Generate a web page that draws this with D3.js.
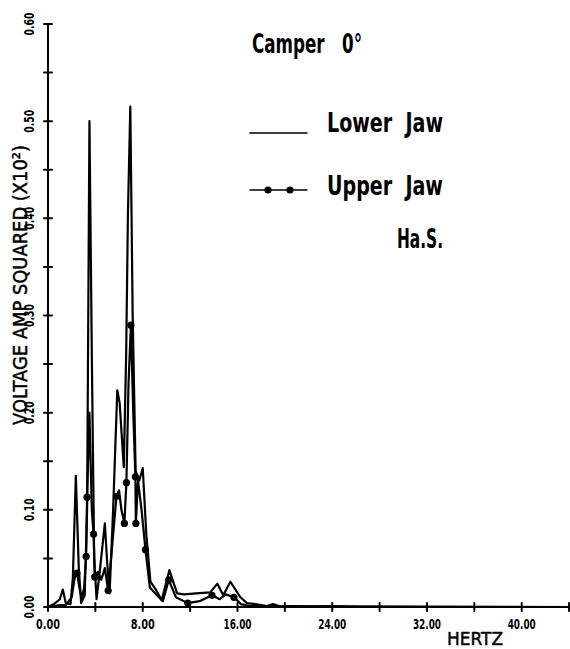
<!DOCTYPE html>
<html>
<head>
<meta charset="utf-8">
<script src="https://cdn.jsdelivr.net/npm/d3@7"></script>
<style>
  html, body { margin: 0; padding: 0; background: #fff; }
  svg { display: block; }
  .cond { font-family: "DejaVu Sans Condensed", "Liberation Sans Narrow", "DejaVu Sans", sans-serif; font-weight: bold; font-stretch: condensed; }
  .plain { font-family: "DejaVu Sans", sans-serif; }
</style>
</head>
<body>
<div id="chart"></div>
<script>
// spectra: [hertz, voltage amp squared (x10^2)]
const lowerJaw = [
  [0, 0], [0.5, 0.003], [1.0, 0.008], [1.25, 0.018], [1.5, 0.004], [1.9, 0.003],
  [2.1, 0.03], [2.35, 0.135], [2.6, 0.04], [2.8, 0.004], [3.1, 0.012], [3.3, 0.1],
  [3.5, 0.50], [3.7, 0.26], [3.9, 0.05], [4.1, 0.008], [4.4, 0.04], [4.8, 0.086],
  [5.0, 0.045], [5.2, 0.014], [5.5, 0.1], [5.85, 0.223], [6.05, 0.21], [6.4, 0.144],
  [6.6, 0.26], [6.75, 0.405], [6.95, 0.515], [7.15, 0.30], [7.4, 0.14], [7.7, 0.13],
  [8.0, 0.143], [8.3, 0.075], [8.65, 0.026], [9.2, 0.016], [9.6, 0.007], [10.25, 0.038],
  [10.9, 0.014], [11.5, 0.013], [12.5, 0.014], [13.7, 0.015], [14.3, 0.024], [14.8, 0.012],
  [15.4, 0.026], [16.25, 0.01], [16.8, 0.004], [17.5, 0.003], [18.0, 0.002], [18.5, 0.001],
  [19.0, 0.003], [19.5, 0.001], [20.5, 0.001], [22, 0], [24, 0.001], [26, 0], [44.5, 0]
]

const upperJaw = [
  [0, 0], [1.0, 0.002], [1.5, 0.002], [2.0, 0.01], [2.25, 0.03], [2.45, 0.035],
  [2.65, 0.02], [2.85, 0.008], [3.05, 0.02], [3.22, 0.052], [3.3, 0.113], [3.5, 0.20],
  [3.7, 0.10], [3.85, 0.075], [3.95, 0.031], [4.2, 0.036], [4.5, 0.028], [4.8, 0.04],
  [5.08, 0.017], [5.4, 0.06], [5.78, 0.114], [6.0, 0.12], [6.2, 0.10], [6.45, 0.086],
  [6.62, 0.128], [6.8, 0.23], [7.0, 0.29], [7.2, 0.2], [7.38, 0.134], [7.42, 0.086],
  [7.6, 0.13], [7.9, 0.10], [8.23, 0.059], [8.6, 0.02], [9.2, 0.012], [9.7, 0.006],
  [10.2, 0.028], [10.8, 0.01], [11.8, 0.004], [12.8, 0.006], [13.85, 0.012], [14.5, 0.008],
  [15.0, 0.013], [15.7, 0.01], [16.3, 0.003], [17, 0.001], [19, 0.001], [44.5, 0]
]

// hertz values on the upper jaw curve that carry a dot
const upperMarkers = [2.45, 3.22, 3.3, 3.85, 3.95, 5.08, 5.78, 6.45, 6.62, 7.0, 7.38, 7.42, 8.23, 10.2, 11.8, 13.85, 15.7]

const xLabelTicks = [0, 8, 16, 24, 32, 40]
const xMinorTicks = [4, 12, 20, 28, 36, 44]
const yLabelTicks = [0, 0.1, 0.2, 0.3, 0.4, 0.5, 0.6]
const yMinorTicks = [0.05, 0.15, 0.25, 0.35, 0.45, 0.55]

const width = 570
const height = 649
const margin = { top: 24, bottom: 42, left: 48, right: -5 }

const svg = d3.select('#chart')
  .append('svg')
  .attr('width', width)
  .attr('height', height)
  .attr('viewBox', [0, 0, width, height].join(' '))
  .attr('fill', 'none')
  .attr('stroke-linejoin', 'round')
  .attr('stroke-linecap', 'round')

const x = d3.scaleLinear()
  .domain([0, 44.5])
  .range([margin.left, width - margin.right])

const y = d3.scaleLinear()
  .domain([0, 0.6])
  .range([height - margin.bottom, margin.top])

const fmt = d3.format('.2f')

// X
const xAxis = svg.append('g').attr('class', 'x')
  .attr('transform', `translate(0,${y(0)})`)

xAxis.append('line')
  .attr('x1', x(0)).attr('x2', width)
  .attr('stroke', '#000').attr('stroke-width', 2)

xAxis.selectAll('line.tick')
  .data(xLabelTicks.concat(xMinorTicks))
  .join('line')
  .attr('class', 'tick')
  .attr('x1', d => x(d)).attr('x2', d => x(d))
  .attr('y1', -4).attr('y2', 4)
  .attr('stroke', '#000').attr('stroke-width', 2)

xAxis.selectAll('text')
  .data(xLabelTicks)
  .join('text')
  .attr('class', 'cond')
  .attr('x', d => x(d))
  .attr('y', 22)
  .attr('text-anchor', 'middle')
  .attr('fill', '#000')
  .attr('font-size', 14)
  .attr('textLength', d => d < 10 ? 24 : 28)
  .attr('lengthAdjust', 'spacingAndGlyphs')
  .text(fmt)

// Y
const yAxis = svg.append('g').attr('class', 'y')
  .attr('transform', `translate(${x(0)},0)`)

yAxis.append('line')
  .attr('y1', y(0)).attr('y2', y(0.6))
  .attr('stroke', '#000').attr('stroke-width', 2)

yAxis.selectAll('line.tick')
  .data(yLabelTicks.concat(yMinorTicks))
  .join('line')
  .attr('class', 'tick')
  .attr('y1', d => y(d)).attr('y2', d => y(d))
  .attr('x1', -4).attr('x2', 4)
  .attr('stroke', '#000').attr('stroke-width', 2)

yAxis.selectAll('text')
  .data(yLabelTicks)
  .join('text')
  .attr('class', 'cond')
  .attr('transform', d => `translate(-14,${y(d)}) rotate(-90)`)
  .attr('text-anchor', 'middle')
  .attr('fill', '#000')
  .attr('font-size', 14)
  .attr('textLength', 23)
  .attr('lengthAdjust', 'spacingAndGlyphs')
  .text(fmt)

// titles
svg.append('text')
  .attr('class', 'plain')
  .attr('transform', `translate(27,${285}) rotate(-90)`)
  .attr('text-anchor', 'middle')
  .attr('fill', '#000')
  .attr('stroke', '#000')
  .attr('stroke-width', 0.5)
  .attr('font-size', 20)
  .attr('textLength', 280)
  .attr('lengthAdjust', 'spacingAndGlyphs')
  .text('VOLTAGE AMP SQUARED (X10²)')

svg.append('text')
  .attr('class', 'plain')
  .attr('x', 447).attr('y', 645)
  .attr('fill', '#000')
  .attr('stroke', '#000')
  .attr('stroke-width', 0.5)
  .attr('font-size', 18)
  .attr('textLength', 56)
  .attr('lengthAdjust', 'spacingAndGlyphs')
  .text('HERTZ')

// lines
const line = d3.line()
  .x(([hz]) => x(hz))
  .y(([, v]) => y(v))

svg.append('g').attr('class', 'lines')
  .selectAll('path')
  .data([upperJaw, lowerJaw])
  .join('path')
  .attr('stroke', '#000')
  .attr('stroke-width', 2.2)
  .attr('d', line)

svg.append('g').attr('class', 'markers')
  .selectAll('circle')
  .data(upperJaw.filter(([hz]) => upperMarkers.includes(hz)))
  .join('circle')
  .attr('cx', ([hz]) => x(hz))
  .attr('cy', ([, v]) => y(v))
  .attr('r', 3.6)
  .attr('fill', '#000')

// legend
const legend = svg.append('g').attr('class', 'legend cond').attr('fill', '#000')

const legendText = [
  { text: 'Camper   0°', x: 252, y: 53, len: 110 },
  { text: 'Lower  Jaw', x: 327, y: 132, len: 116 },
  { text: 'Upper  Jaw', x: 327, y: 195, len: 116 },
  { text: 'Ha.S.', x: 397, y: 248, len: 46 }
]

legend.selectAll('text')
  .data(legendText)
  .join('text')
  .attr('x', d => d.x)
  .attr('y', d => d.y)
  .attr('font-size', 26)
  .attr('textLength', d => d.len)
  .attr('lengthAdjust', 'spacingAndGlyphs')
  .style('white-space', 'pre')
  .text(d => d.text)

legend.append('line')
  .attr('x1', 250).attr('x2', 307).attr('y1', 133).attr('y2', 133)
  .attr('stroke', '#000').attr('stroke-width', 1.5)

legend.append('line')
  .attr('x1', 250).attr('x2', 307).attr('y1', 190).attr('y2', 190)
  .attr('stroke', '#000').attr('stroke-width', 1.5)

legend.selectAll('circle')
  .data([268, 290])
  .join('circle')
  .attr('cx', d => d).attr('cy', 190).attr('r', 3.6)
</script>
</body>
</html>
